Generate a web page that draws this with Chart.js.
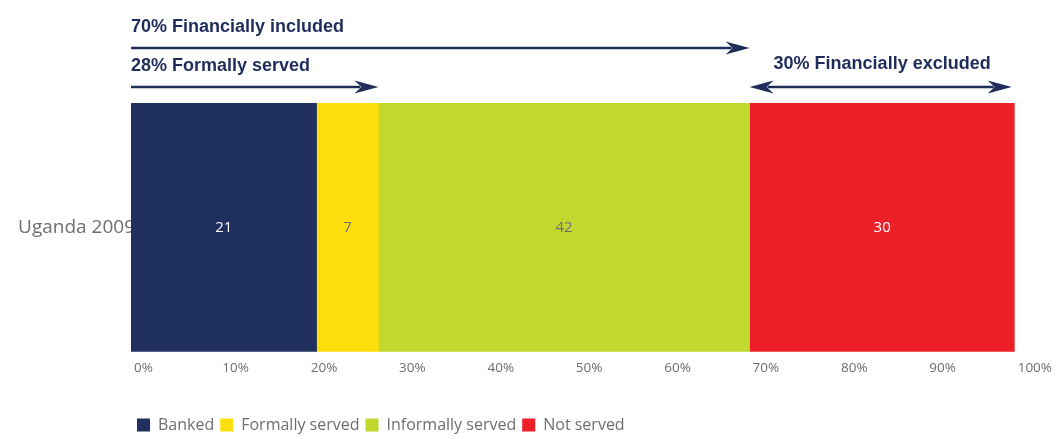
<!DOCTYPE html>
<html>
<head>
<meta charset="utf-8">
<title>Financial access strand</title>
<script src="https://cdn.jsdelivr.net/npm/chart.js@4.4.0/dist/chart.umd.min.js"></script>
<style>
  html, body { margin: 0; padding: 0; background: #ffffff; }
  #wrap { position: relative; width: 1057px; height: 439px; }
</style>
</head>
<body>
<div id="wrap"><canvas id="strand"></canvas></div>
<script>
// access strand, % of adults
const categories = ["Uganda 2009"];
const segmentNames = ["Banked", "Formally served", "Informally served", "Not served"];
const banked = [21];
const formallyServed = [7];
const informallyServed = [42];
const notServed = [30];
const tickValues = [0, 10, 20, 30, 40, 50, 60, 70, 80, 90, 100];

const segmentColors = ["#1f2f5e", "#fbde0b", "#c1d82f", "#ed2028"];
const valueColors = ["#ffffff", "#6d6e71", "#6d6e71", "#ffffff"];
const navy = "#1f2d5a";
const grey = "#6d6e71";

const seriesValues = [banked, formallyServed, informallyServed, notServed];

// headline shares shown by the arrows above the bar
const formalShare = banked[0] + formallyServed[0];
const includedShare = formalShare + informallyServed[0];
const excludedShare = notServed[0];

function arrowHead(ctx, tipX, y, dir) {
  ctx.beginPath();
  ctx.moveTo(tipX, y);
  ctx.lineTo(tipX - dir * 24, y - 6.5);
  ctx.lineTo(tipX - dir * 17, y);
  ctx.lineTo(tipX - dir * 24, y + 6.5);
  ctx.closePath();
  ctx.fill();
}

function arrowLine(ctx, fromX, toX, y, both) {
  ctx.beginPath();
  ctx.moveTo(both ? fromX + 18 : fromX, y);
  ctx.lineTo(toX - 18, y);
  ctx.stroke();
  arrowHead(ctx, toX, y, 1);
  if (both) arrowHead(ctx, fromX, y, -1);
}

const arrowsPlugin = {
  id: "shareArrows",
  afterDraw(chart) {
    const { ctx, chartArea, scales } = chart;
    const x = scales.x;
    const top = chartArea.top;
    const x0 = x.getPixelForValue(0);
    const xFormal = x.getPixelForValue(formalShare);
    const xIncl = x.getPixelForValue(includedShare);
    const xEnd = x.getPixelForValue(100);

    ctx.save();
    ctx.fillStyle = navy;
    ctx.strokeStyle = navy;
    ctx.lineWidth = 2.4;
    ctx.font = "bold 18px 'Liberation Sans', Arial, sans-serif";
    ctx.textBaseline = "middle";

    ctx.textAlign = "left";
    ctx.fillText(includedShare + "% Financially included", x0, top - 76);
    arrowLine(ctx, x0, xIncl, top - 55, false);

    ctx.fillText(formalShare + "% Formally served", x0, top - 37);
    arrowLine(ctx, x0, xFormal, top - 16, false);

    ctx.textAlign = "center";
    ctx.fillText(excludedShare + "% Financially excluded", (xIncl + xEnd) / 2, top - 39);
    arrowLine(ctx, xIncl, xEnd - 3, top - 16, true);
    ctx.restore();
  }
};

// segment values written in the middle of each block
const valuesPlugin = {
  id: "segmentValues",
  afterDatasetsDraw(chart) {
    const ctx = chart.ctx;
    ctx.save();
    ctx.font = "15px 'Open Sans', sans-serif";
    ctx.textAlign = "center";
    ctx.textBaseline = "middle";
    chart.data.datasets.forEach((ds, i) => {
      chart.getDatasetMeta(i).data.forEach((bar, j) => {
        ctx.fillStyle = valueColors[i];
        ctx.fillText(String(ds.data[j]), (bar.x + bar.base) / 2, bar.y);
      });
    });
    ctx.restore();
  }
};

const datasets = segmentNames.map((name, i) => ({
  label: name,
  data: seriesValues[i],
  backgroundColor: segmentColors[i],
  borderWidth: 0,
  categoryPercentage: 1,
  barPercentage: 1
}));

new Chart(document.getElementById("strand").getContext("2d"), {
  type: "bar",
  data: { labels: categories, datasets: datasets },
  options: {
    indexAxis: "y",
    responsive: true,
    maintainAspectRatio: false,
    animation: false,
    layout: { padding: { top: 103, right: 42, bottom: -4, left: 0 } },
    scales: {
      x: {
        stacked: true,
        min: 0,
        max: 100,
        afterBuildTicks: (scale) => {
          scale.ticks = tickValues.map((v) => ({ value: v }));
        },
        // extra room between the percent ticks and the legend
        afterFit: (scale) => { scale.height += 27; },
        grid: { display: false, drawTicks: false },
        border: { display: false },
        ticks: {
          align: "start",
          labelOffset: 3,
          padding: 8,
          color: grey,
          font: { family: "'Open Sans', sans-serif", size: 13.5 },
          callback: (v) => v + "%"
        }
      },
      y: {
        stacked: true,
        grid: { display: false, drawTicks: false },
        border: { display: false },
        afterFit: (scale) => { scale.width = 131; },
        ticks: {
          padding: -4,
          color: grey,
          font: { family: "'Open Sans', sans-serif", size: 19 }
        }
      }
    },
    plugins: {
      legend: {
        position: "bottom",
        align: "start",
        fullSize: false,
        labels: {
          boxWidth: 13,
          boxHeight: 13,
          padding: 6,
          color: grey,
          font: { family: "'Open Sans', sans-serif", size: 16 }
        }
      },
      tooltip: { enabled: false }
    }
  },
  plugins: [valuesPlugin, arrowsPlugin]
});
</script>
</body>
</html>
